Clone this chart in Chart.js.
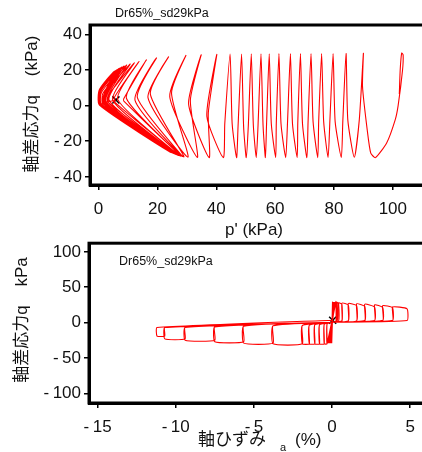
<!DOCTYPE html>
<html>
<head>
<meta charset="utf-8">
<script src="https://cdn.jsdelivr.net/npm/chart.js@4.4.0/dist/chart.umd.min.js"></script>
<style>
html, body { margin:0; padding:0; background:#fff; overflow:hidden; width:422px; height:452px; }
#wrapTop { position:absolute; left:0; top:0; width:432px; height:240px; }
#wrapBot { position:absolute; left:0; top:230px; width:432px; height:222px; }
</style>
</head>
<body>
<div id="wrapTop"><canvas id="pathChart" width="432" height="240"></canvas></div>
<div id="wrapBot"><canvas id="strainChart" width="432" height="222"></canvas></div>
<script>
// ---- 有効応力経路 (p' - q) ----
const pTicks = [0, 20, 40, 60, 80, 100];
const qTicks = [-40, -20, 0, 20, 40];

// 載荷開始から最初の山まで
const startP = [102.2, 102.5, 103.0, 103.5, 103.3, 101.8, 100.8, 97.9, 94.1, 92.5, 91.3, 89.7];
const startQ = [6.5, 20, 29.5, 28.5, 20, 0, -8, -21, -29.2, -26.7, -13.7, 10.7];

// 各サイクルの山 (圧縮側ピーク)
const topP = [90, 84.1, 79.7, 75.8, 72.2, 68.6, 65.2, 61.3, 58, 55.2, 51.9, 48.6, 44.7, 40.2, 34.9,
              29.7, 23.8, 19.7, 16.3, 13.8, 12.2, 10.8, 9.6, 8.7, 7.9, 7.2, 6.7, 6.2, 5.8, 5.4];
const topQ = [29.4, 29.3, 29.2, 29.2, 29.2, 29.2, 29.2, 29.2, 29.1, 29.1, 29.1, 29.0, 29.0, 28.8, 28.6,
              28.2, 27.4, 26.8, 25.8, 24.8, 24.0, 23.4, 22.8, 22.2, 21.6, 21.0, 20.5, 20.0, 19.6, 19.2];
// 除荷中の折れ点
const kneeP = [88.6, 83.0, 78.6, 74.8, 71.2, 67.7, 64.2, 60.4, 57.1, 54.2, 50.9, 47.4, 42.9, 37.3, 31.2,
               24.8, 17.6, 13.2, 9.5, 6.5, 4.8, 3.6, 3.0, 2.5, 2.2, 2.0, 1.8, 1.6, 1.5, 1.4];
const kneeQ = [-8, -9, -9, -9, -9, -10, -10, -10, -10, -11, -11, -12, -10, -4, 3,
               7, 6.5, 4.5, 4, 3.5, 3, 3, 2.6, 2.4, 2.2, 2, 2, 1.8, 1.8, 1.7];
// 谷 (伸張側ピーク)
const botP = [86.9, 82.5, 78, 74.5, 70.8, 67.5, 63.6, 60.2, 56.7, 53.6, 50.2, 46.9, 42.4, 37.6, 33.6,
              30.4, 29.0, 28.4, 27.9, 27.5, 27.1, 26.8, 26.5, 26.2, 25.9, 25.6, 25.3, 25.0, 24.7, 24.4];
const botQ = [-29, -29.1, -29.1, -29.2, -29.2, -29.2, -29.2, -29.2, -29.2, -29.2, -29.2, -29.2, -29.2, -29.2, -29.1,
              -29, -28.8, -28.6, -28.4, -28.2, -28, -27.8, -27.6, -27.4, -27.2, -27, -26.8, -26.6, -26.4, -26.2];
// 谷から次の山へ向かう途中の折れ点
const riseP = [84.7, 80.4, 76.5, 72.9, 69.3, 65.9, 62.0, 58.7, 55.9, 52.6, 49.3, 45.4, 36.8, 30.6, 24.2,
               16.8, 12.4, 8.6, 5.5, 3.5, 2.2, 1.5, 1.0, 0.7, 0.5, 0.4, 0.3, 0.3, 0.3];
const riseQ = [-8, -9, -9, -9, -10, -10, -10, -10, -11, -11, -12, -10, -6, 1, 5,
               4.5, 3, 2.5, 2, 1.5, 1.2, 1, 0.8, 0.8, 0.6, 0.5, 0.5, 0.4, 0.3];
const liftQ = [null, null, null, null, null, null, null, null, null, null, null, null, null, null, null,
               null, null, 4, 5, 6, 6.5, 7, 7.5, 8, 8, 8.5, 8.5, 9, 9];
const endP = [1.0, 5.9];
const endQ = [0.5, 3.2];

// ---- 応力ひずみ関係 (εa - q) ----
const epsTicks = [-15, -10, -5, 0, 5];
const q2Ticks = [-100, -50, 0, 50, 100];

const bandEps = [0, 0.03, -0.02, 0.06, -0.04, 0.08, -0.06, 0.1, -0.08, 0.12, -0.1, 0.14, -0.12, 0.16, -0.15,
                 0.18, -0.18, 0.2, -0.2, 0.21, -0.22, 0.22, -0.25, 0.23, -0.27, 0.24, -0.3, 0.25, -0.32];
const bandQ = [0, 29, -29, 29, -29, 29, -29, 29, -29, 29, -29, 29, -29, 29, -29,
               29, -29, 29, -29, 29, -29, 29, -29, 29, -29, 29, -29, 29, -29];

const compTips  = [0.26, 0.33, 0.42, 0.63, 1.04, 1.57, 2.09, 2.72, 3.24, 3.87, 4.8];
const compTopQ  = [30, 29, 28.5, 28, 27.5, 27, 26.5, 26, 25, 24, 22];
const compTipQ  = [28, 27.5, 27, 26, 25, 24, 23, 22, 21.5, 21, 19.5];
const compBaseQ = [2, 2, 2, 2, 2.5, 2.5, 2.5, 3, 3, 3, 3];
const extTips   = [-0.5, -0.8, -1.1, -1.45, -1.9, -3.77, -5.65, -7.5, -9.4, -10.7, -11.2];
const extBotQ   = [-30, -30, -30, -30, -30, -30, -29, -27, -25, -23, -19];
const extUpQ    = [-2, -2.5, -3, -3, -3.5, -4, -4.5, -5, -6, -7, -7];
const crossEps = 0, crossQ = 0.5;
const endEps = 0.04, endQ2 = 3.4;

function buildPath() {
	const pts = [];
	for (let i = 0; i < startP.length; i++) pts.push({x: startP[i], y: startQ[i]});
	for (let i = 0; i < topP.length; i++) {
		pts.push({x: topP[i], y: topQ[i]});
		pts.push({x: kneeP[i], y: kneeQ[i]});
		pts.push({x: botP[i], y: botQ[i]});
		if (i < riseP.length) {
			pts.push({x: riseP[i], y: riseQ[i]});
			if (liftQ[i] !== null) pts.push({x: riseP[i], y: liftQ[i]});
		}
	}
	for (let i = 0; i < endP.length; i++) pts.push({x: endP[i], y: endQ[i]});
	return pts;
}

function buildStrain() {
	const pts = [];
	for (let i = 0; i < bandEps.length; i++) pts.push({x: bandEps[i], y: bandQ[i]});
	let ePrev = bandEps[bandEps.length - 1];
	let cPrev = 0.25;
	for (let n = 0; n < extTips.length; n++) {
		pts.push({x: ePrev, y: extUpQ[n]});
		pts.push({x: crossEps, y: crossQ});
		pts.push({x: cPrev, y: compBaseQ[n]});
		pts.push({x: cPrev, y: compTopQ[n]});
		pts.push({x: compTips[n], y: compTipQ[n]});
		pts.push({x: compTips[n], y: compBaseQ[n]});
		pts.push({x: crossEps, y: crossQ});
		pts.push({x: ePrev, y: extUpQ[n]});
		pts.push({x: ePrev, y: extBotQ[n]});
		pts.push({x: extTips[n], y: extBotQ[n]});
		ePrev = extTips[n];
		cPrev = compTips[n];
	}
	pts.push({x: ePrev, y: extUpQ[extUpQ.length - 1]});
	pts.push({x: endEps, y: endQ2});
	return pts;
}

const FONT = "'Liberation Sans', Arial, 'Noto Sans CJK JP', sans-serif";

function axisOpts(min, max, tickVals, fitSize, horizontal) {
	return {
		type: 'linear', min: min, max: max,
		afterBuildTicks: function(s) { s.ticks = tickVals.map(v => ({value: v})); },
		afterFit: function(s) { if (horizontal) { s.height = fitSize; } else { s.width = fitSize; } },
		grid: { drawOnChartArea: false, drawTicks: true, tickLength: 5, color: '#000', lineWidth: 1.5 },
		border: { display: true, color: '#000', width: 3 },
		ticks: {
			color: '#111', font: { family: FONT, size: 17 }, padding: horizontal ? 9 : 3,
			maxRotation: 0, autoSkip: false,
			callback: v => v < 0 ? '-\u2009' + Math.abs(v) : String(v)
		}
	};
}

function textPlugin(items) {
	return {
		id: 'texts',
		afterDraw(chart) {
			const ctx = chart.ctx;
			const a = chart.chartArea;
			ctx.save();
			ctx.strokeStyle = '#000';
			ctx.lineWidth = 3;
			ctx.strokeRect(a.left, a.top, a.right - a.left, a.bottom - a.top);
			ctx.fillStyle = '#111';
			items.forEach(t => {
				ctx.save();
				ctx.font = t.size + 'px ' + FONT;
				ctx.textAlign = t.align || 'left';
				ctx.textBaseline = 'middle';
				ctx.translate(t.x, t.y);
				if (t.rot) ctx.rotate(t.rot);
				ctx.fillText(t.text, 0, 0);
				ctx.restore();
			});
			ctx.restore();
		}
	};
}

new Chart(document.getElementById('pathChart'), {
	type: 'scatter',
	data: {
		datasets: [{
			data: buildPath(), showLine: true, borderColor: '#ff0000', borderWidth: 1.1,
			pointRadius: 0, tension: 0.2, fill: false
		}, {
			data: [{x: endP[endP.length - 1], y: endQ[endQ.length - 1]}],
			pointStyle: 'crossRot', pointRadius: 5, borderColor: '#000', borderWidth: 1.5, showLine: false
		}]
	},
	options: {
		responsive: false, animation: false,
		layout: { padding: { top: 25, left: 0, right: 0, bottom: 0 } },
		plugins: { legend: { display: false }, tooltip: { enabled: false } },
		scales: {
			x: axisOpts(-2.9, 111.1, pTicks, 55, true),
			y: axisOpts(-44.6, 45.3, qTicks, 90, false)
		}
	},
	plugins: [textPlugin([
		{ text: 'Dr65%_sd29kPa', x: 115, y: 14, size: 12.5 },
		{ text: "p' (kPa)", x: 254, y: 230, size: 17, align: 'center' },
		{ text: '軸差応力q    (kPa)', x: 32, y: 104, size: 17, align: 'center', rot: -Math.PI / 2 }
	])]
});

new Chart(document.getElementById('strainChart'), {
	type: 'scatter',
	data: {
		datasets: [{
			data: buildStrain(), showLine: true, borderColor: '#ff0000', borderWidth: 1.1,
			pointRadius: 0, tension: 0.15, fill: false
		}, {
			data: [{x: endEps, y: endQ2}],
			pointStyle: 'crossRot', pointRadius: 5, borderColor: '#000', borderWidth: 1.5, showLine: false
		}]
	},
	options: {
		responsive: false, animation: false,
		layout: { padding: { top: 12, left: 0, right: 0, bottom: 0 } },
		plugins: { legend: { display: false }, tooltip: { enabled: false } },
		scales: {
			x: axisOpts(-15.55, 5.98, epsTicks, 49, true),
			y: axisOpts(-113.6, 112.2, q2Ticks, 89, false)
		}
	},
	plugins: [textPlugin([
		{ text: 'Dr65%_sd29kPa', x: 119, y: 32, size: 12.5 },
		{ text: '軸ひずみ', x: 198, y: 210, size: 17 },
		{ text: 'a', x: 280, y: 218, size: 11 },
		{ text: '(%)', x: 295, y: 210, size: 17 },
		{ text: '軸差応力q    kPa', x: 22, y: 90, size: 17, align: 'center', rot: -Math.PI / 2 }
	])]
});
</script>
</body>
</html>
